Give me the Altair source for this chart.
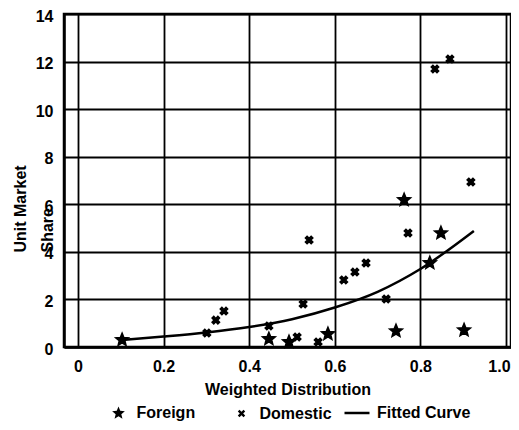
import altair as alt
import pandas as pd

# Foreign (stars)
foreign_x = [0.103, 0.446, 0.493, 0.584, 0.743, 0.902, 0.822, 0.848, 0.762]
foreign_y = [0.30, 0.34, 0.21, 0.55, 0.67, 0.71, 3.53, 4.79, 6.18]

# Domestic (small crosses)
domestic_x = [0.341, 0.322, 0.301, 0.446, 0.512, 0.561, 0.526, 0.540, 0.621,
              0.647, 0.673, 0.720, 0.771, 0.834, 0.869, 0.918]
domestic_y = [1.51, 1.13, 0.59, 0.88, 0.42, 0.21, 1.81, 4.50, 2.82,
              3.15, 3.53, 2.02, 4.79, 11.69, 12.11, 6.94]

# Fitted curve
curve_x = [0.103, 0.2, 0.3, 0.4, 0.5, 0.6, 0.7, 0.8, 0.925]
curve_y = [0.30, 0.44, 0.61, 0.84, 1.17, 1.66, 2.32, 3.28, 4.88]

x_ticks = [0, 0.2, 0.4, 0.6, 0.8, 1.0]
y_ticks = [0, 2, 4, 6, 8, 10, 12, 14]
point_series = ["Foreign", "Domestic"]
line_series = ["Fitted Curve"]

STAR = ("M0,-1L0.26,-0.36L0.951,-0.309L0.42,0.137L0.588,0.809L0,0.44"
        "L-0.588,0.809L-0.42,0.137L-0.951,-0.309L-0.26,-0.36Z")
XMARK = ("M-1,-0.55L-0.55,-1L0,-0.45L0.55,-1L1,-0.55L0.45,0L1,0.55L0.55,1"
         "L0,0.45L-0.55,1L-1,0.55L-0.45,0Z")

pts = pd.DataFrame({
    "x": foreign_x + domestic_x,
    "y": foreign_y + domestic_y,
    "series": ["Foreign"] * len(foreign_x) + ["Domestic"] * len(domestic_x),
})
curve = pd.DataFrame({"x": curve_x, "y": curve_y, "series": "Fitted Curve"})

FONT = "Liberation Sans"

xscale = alt.Scale(domain=[-0.0327, 1.0117], nice=False, zero=False)
yscale = alt.Scale(domain=[0, 14], nice=False)

xaxis = alt.Axis(values=x_ticks, title="Weighted Distribution", ticks=False,
                 labelExpr="datum.value == 0 ? '0' : format(datum.value, '.1f')",
                 labelOffset={"condition": {"test": "datum.value >= 1", "value": -7}, "value": 0},
                 labelPadding=11, titlePadding=7, labelFlush=False)
yaxis = alt.Axis(values=y_ticks, title=["Unit Market", "Share"], ticks=False,
                 labelPadding=11, labelOffset=2, titleAngle=-90, titleAlign="left",
                 titleBaseline="alphabetic", titleX=-39, titleY=238,
                 titleLineHeight=27)

leg = alt.Legend(title=None, orient="none", direction="horizontal",
                 legendX=46.5, legendY=391, columnPadding=38, labelOffset=10,
                 symbolStrokeColor="black", symbolFillColor="black",
                 symbolStrokeWidth=1.5, symbolOpacity=1)

points = alt.Chart(pts).mark_point(filled=True, fill="black", stroke="black",
                                   strokeWidth=1.5, opacity=1).encode(
    x=alt.X("x:Q", scale=xscale, axis=xaxis),
    y=alt.Y("y:Q", scale=yscale, axis=yaxis),
    shape=alt.Shape("series:N", scale=alt.Scale(domain=point_series, range=[STAR, XMARK]),
                    legend=leg),
    size=alt.Size("series:N", scale=alt.Scale(domain=point_series, range=[180, 55]),
                  legend=leg),
)

line = alt.Chart(curve).mark_line(strokeWidth=2.5, interpolate="monotone").encode(
    x=alt.X("x:Q", scale=xscale),
    y=alt.Y("y:Q", scale=yscale),
    color=alt.Color("series:N", scale=alt.Scale(domain=line_series, range=["black"]),
                    legend=alt.Legend(title=None, orient="none", legendX=279, legendY=385,
                                      symbolType="stroke", symbolSize=625,
                                      symbolStrokeWidth=2.5, labelOffset=6)),
)

chart = alt.layer(line, points).properties(
    width=447, height=333,
    padding={"left": 56, "top": 6, "right": 0, "bottom": 74},
    autosize=alt.AutoSizeParams(type="none"),
).resolve_legend(
    color="independent", shape="independent", size="independent"
).configure_view(
    stroke="black", strokeWidth=2.5
).configure_axis(
    grid=True, gridColor="black", gridWidth=1.8, gridOpacity=1,
    domainColor="black", domainWidth=2.5,
    labelFont=FONT, labelFontSize=16, labelFontWeight="bold", labelColor="black",
    titleFont=FONT, titleFontSize=16, titleFontWeight="bold", titleColor="black",
).configure_legend(
    labelFont=FONT, labelFontSize=16, labelFontWeight="bold", labelColor="black",
)

chart.save("out.html", embed_options={"renderer": "svg", "actions": False})
